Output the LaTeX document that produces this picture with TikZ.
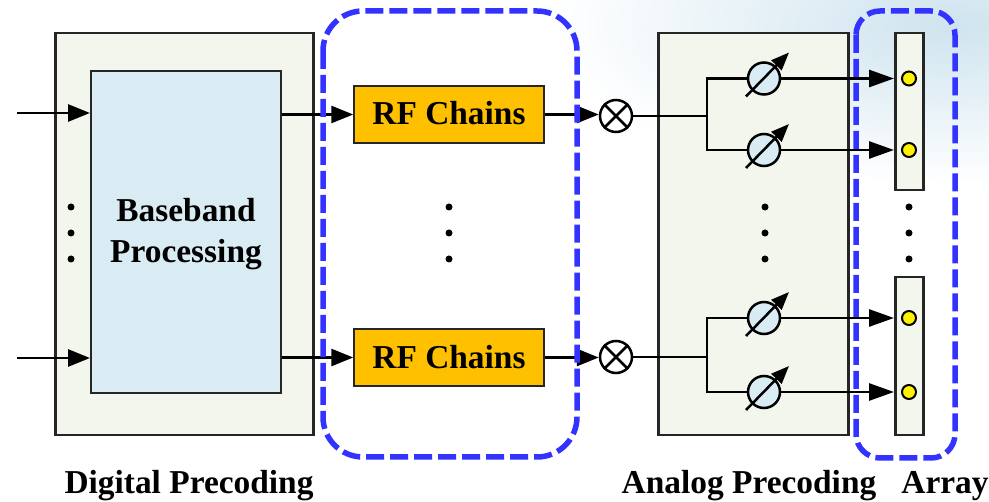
\documentclass[tikz,border=0pt]{standalone}
\usepackage{fontspec}
\setmainfont{Liberation Serif}
\usepackage{tikz}
\usetikzlibrary{arrows.meta,calc,positioning,shapes.geometric}
\definecolor{PanelGreen}{HTML}{F3F6EC}
\definecolor{BasebandBlue}{HTML}{DAECF3}
\definecolor{ChainOrange}{HTML}{FFC000}
\definecolor{GroupBlue}{HTML}{3333FF}
\definecolor{WashBlue}{HTML}{CFE4EF}

\tikzset{
  panelbox/.style={draw=black!85,line width=2.5pt,fill=PanelGreen,anchor=north west,inner sep=0pt},
  chainbox/.style={draw=black!85,line width=1.5pt,fill=ChainOrange,minimum width=190pt,minimum height=57pt,font=\fontsize{33.4}{36}\selectfont\bfseries},
  mixernode/.style={circle,draw=black,line width=2.5pt,fill=white,minimum size=32pt,inner sep=0pt},
  shifternode/.style={circle,draw=black,line width=2.5pt,fill=BasebandBlue,minimum size=32pt,inner sep=0pt},
  elementnode/.style={circle,draw=black,line width=2pt,fill=yellow,minimum size=14pt,inner sep=0pt},
  dotnode/.style={circle,fill=black,minimum size=7pt,inner sep=0pt},
  captionnode/.style={font=\fontsize{33.4}{36}\selectfont\bfseries},
  groupbox/.style={draw=GroupBlue,line width=5.5pt,dash pattern=on 18pt off 6pt},
  wire/.style={line width=2.8pt},
  feed/.style={line width=2.8pt,-{Triangle[length=22pt,width=17pt]}}
}

\begin{document}
\begin{tikzpicture}[x=1pt,y=-1pt]
  \useasboundingbox (0,0) rectangle (989,502);

  % background wash
  \begin{scope}
    \clip (0,0) rectangle (989,502);
    \shade[inner color=WashBlue,outer color=white] (950,25) ellipse [x radius=400,y radius=160];
  \end{scope}

  % panels
  \node[panelbox,minimum width=258pt,minimum height=402pt] (digital) at (54,32) {};
  \node[panelbox,minimum width=190pt,minimum height=402pt] (analog) at (657,32) {};
  \node[panelbox,minimum width=28pt,minimum height=157pt] (arrayA) at (894,32) {};
  \node[panelbox,minimum width=28pt,minimum height=158pt] (arrayB) at (894,276) {};
  \node[panelbox,line width=2pt,fill=BasebandBlue,minimum width=190pt,minimum height=322pt] (baseband) at (90,70.5) {};
  \node[align=center,font=\fontsize{33.4}{41}\selectfont\bfseries] (basebandtext) at (186,234.5) {Baseband\\Processing};

  % chains and mixers
  \node[chainbox] (chainA) at (449,114.5) {\raisebox{3pt}{RF Chains}};
  \node[chainbox] (chainB) at (449,357.5) {RF Chains};
  \node[mixernode] (mixA) at (616,116) {};
  \node[mixernode] (mixB) at (616,357) {};
  \foreach \m in {mixA,mixB} {
    \draw[wire] (\m.north west) -- (\m.south east);
    \draw[wire] (\m.north east) -- (\m.south west);
  }

  % inputs
  \coordinate (inA) at (17,113);
  \coordinate (inB) at (17,358);
  \draw[feed] (inA) -- (baseband.west |- inA);
  \draw[feed] (inB) -- (baseband.west |- inB);
  \draw[feed] (baseband.east |- chainA) -- (chainA);
  \draw[feed] (baseband.east |- chainB) -- (chainB);
  \draw[feed] (chainA) -- (mixA.west |- chainA);
  \draw[feed] (chainB) -- (mixB.west |- chainB);

  % splits
  \coordinate (splitA) at (707,116);
  \coordinate (splitB) at (707,357);
  \draw[wire] (mixA) -- (splitA);
  \draw[wire] (mixB) -- (splitB);

  % shifters with their elements
  \foreach \n/\y in {A/78.5,B/150,C/318,D/392} {
    \coordinate (shift\n) at (764,\y);
    \node[elementnode] (elem\n) at (909,\y) {};
    \draw[feed,-{Triangle[length=25pt,width=17pt]}] (shift\n) -- (elem\n -| arrayA.west);
  }
  \draw[wire] (shiftA) -| (splitA) |- (shiftB);
  \draw[wire] (shiftC) -| (splitB) |- (shiftD);
  \foreach \n/\y in {A/78.5,B/150,C/318,D/392} {
    \node[shifternode] (ring\n) at (764,\y) {};
    \draw[line width=2.5pt,-{Triangle[length=18pt,width=14pt]}] ($(ring\n)+(-18,18)$) -- ($(ring\n)+(25,-26)$);
  }

  % dots
  \foreach \x/\c in {71/l,449/m,765/r,909/a} {
    \foreach \y/\k in {207/1,233/2,259/3} {
      \node[dotnode] (dot\c\k) at (\x,\y) {};
    }
  }

  % groups
  \draw[groupbox,rounded corners=40pt] (323,11) rectangle (577,457);
  \draw[groupbox,rounded corners=24pt] (856,11) rectangle (955,458);

  % captions
  \node[captionnode] (capdigital) at (189,486) {Digital Precoding};
  \node[captionnode] (capanalog) at (749,486) {Analog Precoding};
  \node[captionnode] (caparray) at (945,486) {Array};
\end{tikzpicture}
\end{document}
